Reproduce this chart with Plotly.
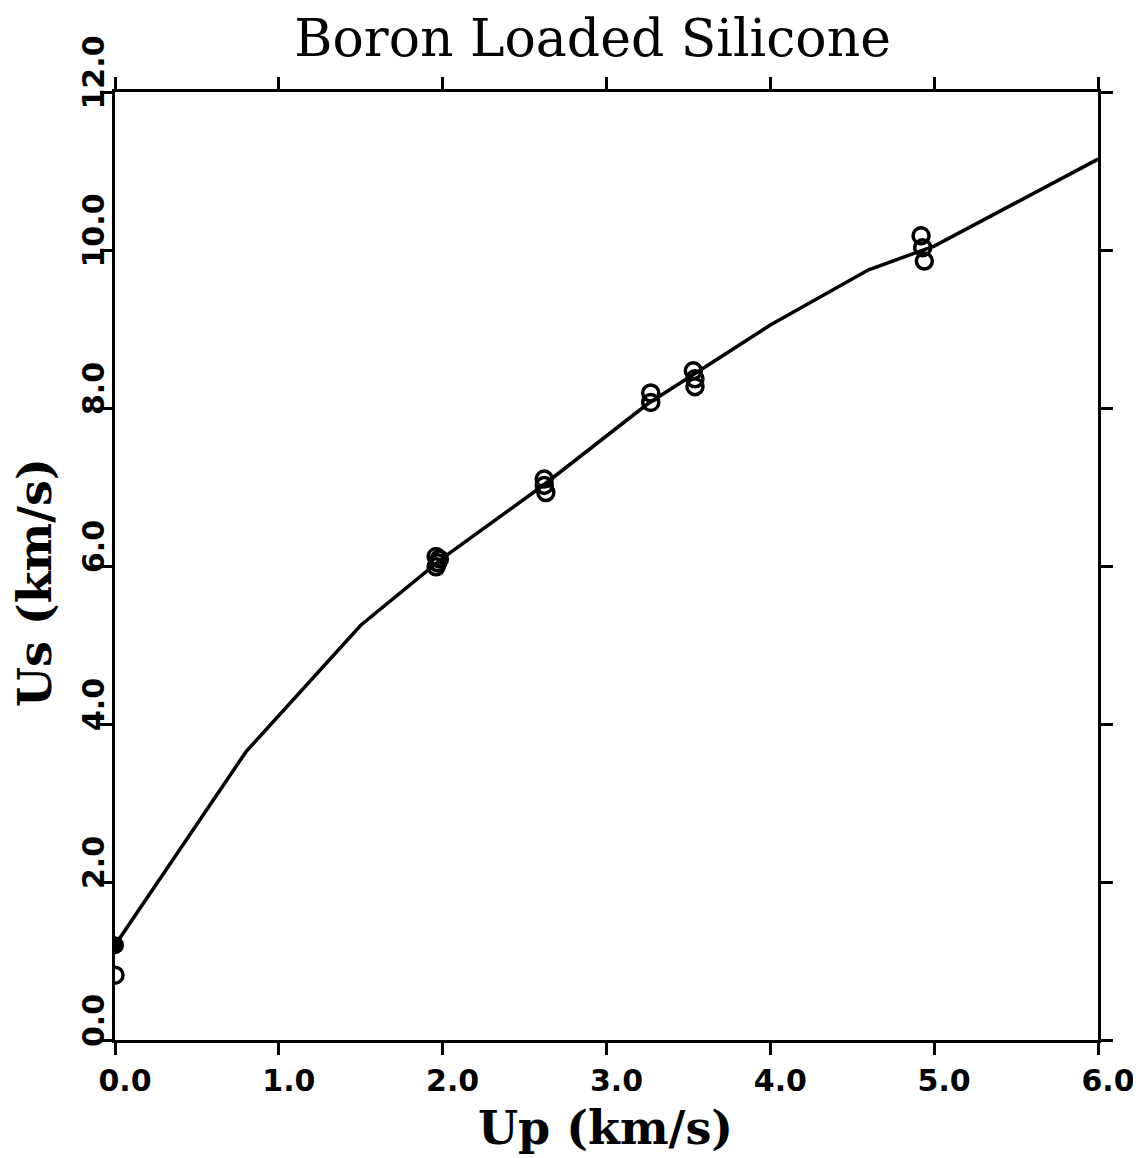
import plotly.graph_objects as go

# Fitted curve (Us vs Up)
curve_up = [0.0, 0.8, 1.5, 2.0, 2.6, 3.25, 3.55, 4.0, 4.6, 5.0, 5.5, 6.0]
curve_us = [1.2, 3.65, 5.25, 6.1, 7.0, 8.05, 8.45, 9.05, 9.75, 10.05, 10.6, 11.15]

# Measured points (open circles)
data_up = [0.0, 1.96, 1.97, 1.98, 1.96, 2.62, 2.62, 2.63, 3.27, 3.27, 3.53, 3.54, 3.54, 4.92, 4.93, 4.94]
data_us = [0.82, 5.99, 6.04, 6.09, 6.12, 7.10, 7.02, 6.93, 8.19, 8.07, 8.47, 8.37, 8.27, 10.18, 10.03, 9.86]

# Filled point
solid_up = [0.0]
solid_us = [1.2]

x_ticks = [0, 1, 2, 3, 4, 5, 6]
x_labels = ["0.0", "1.0", "2.0", "3.0", "4.0", "5.0", "6.0"]
y_ticks = [0, 2, 4, 6, 8, 10, 12]
y_labels = ["0.0", "2.0", "4.0", "6.0", "8.0", "10.0", "12.0"]

fig = go.Figure()
fig.add_trace(go.Scatter(x=curve_up, y=curve_us, mode="lines",
                         line=dict(color="black", width=3.5), showlegend=False))
fig.add_trace(go.Scatter(x=data_up, y=data_us, mode="markers",
                         marker=dict(symbol="circle-open", size=16, color="black",
                                     line=dict(width=3.5, color="black")),
                         showlegend=False))
fig.add_trace(go.Scatter(x=solid_up, y=solid_us, mode="markers",
                         marker=dict(symbol="circle", size=18, color="black"),
                         showlegend=False))

axis_common = dict(showline=True, linecolor="black", linewidth=3, mirror="ticks",
                   ticks="outside", ticklen=12, tickwidth=2.5, tickcolor="black",
                   showgrid=False, zeroline=False, automargin=False)

fig.update_layout(
    width=1133, height=1150,
    margin=dict(l=107, r=43, t=84, b=118),
    paper_bgcolor="white", plot_bgcolor="white",
    title=dict(text="Boron Loaded Silicone", x=0.516, xanchor="center", y=0.974, yanchor="middle",
               font=dict(family="DejaVu Serif", size=52, color="black")),
    xaxis=dict(range=[0, 6.0], tickvals=x_ticks, ticktext=x_labels, ticklabelshift=10,
               tickfont=dict(family="DejaVu Sans", size=30, color="black", weight="bold"),
               **axis_common),
    yaxis=dict(range=[0, 12.0], tickvals=y_ticks, ticktext=y_labels, tickangle=-90,
               ticklabelshift=-15, ticklabelstandoff=-16,
               tickfont=dict(family="DejaVu Sans", size=30, color="black", weight="bold"),
               **axis_common),
    annotations=[
        dict(text="Up (km/s)", xref="paper", yref="paper", x=0.4985, y=-0.0928,
             xanchor="center", yanchor="middle", showarrow=False,
             font=dict(family="DejaVu Serif", size=46, color="black", weight="bold")),
        dict(text="Us (km/s)", xref="paper", yref="paper", x=-0.0814, y=0.483,
             xanchor="center", yanchor="middle", showarrow=False, textangle=-90,
             font=dict(family="DejaVu Serif", size=46, color="black", weight="bold")),
    ],
)

fig.write_html("out.html")
